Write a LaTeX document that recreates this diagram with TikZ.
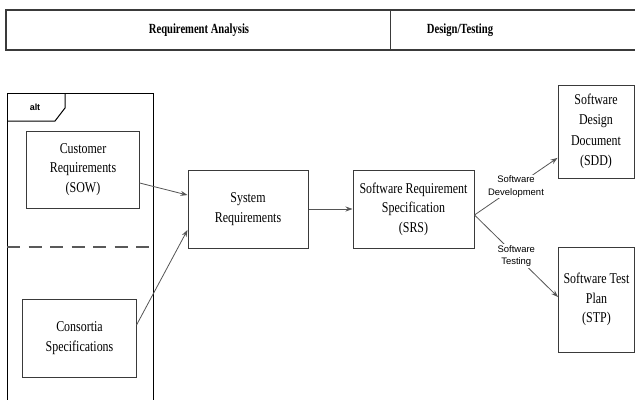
\documentclass[tikz,border=0pt]{standalone}
\usepackage{fontspec}
\usetikzlibrary{arrows.meta}
\newfontfamily\boxfont{Liberation Serif}[FakeStretch=0.8]
\newfontfamily\headfont{Liberation Serif}[FakeStretch=0.76]
\newfontfamily\labelfont{Liberation Sans}
\definecolor{linegray}{HTML}{3A3A3A}
\definecolor{arrowgray}{HTML}{555555}
\tikzset{
  stagebox/.style={draw=linegray, line width=1bp, fill=white, align=center,
    font=\boxfont\fontsize{15}{19.5}\selectfont, inner sep=0pt},
  headlabel/.style={font=\headfont\bfseries\fontsize{14}{16}\selectfont},
  flowarrow/.style={draw=arrowgray, line width=0.8bp, -{Stealth[length=7bp,width=5bp]}},
  edgelabel/.style={fill=white, align=center, inner sep=1bp,
    font=\labelfont\fontsize{9.5}{12.5}\selectfont}
}
\begin{document}
\begin{tikzpicture}[x=1bp,y=-1bp]
\useasboundingbox (0,0) rectangle (635,399);

% phase header
\draw[linegray, line width=1.4bp] (6,10) rectangle (636,50);
\draw[linegray, line width=1bp] (390,10) -- (390,50);
\node[headlabel] (hreq) at (199,30) {Requirement Analysis};
\node[headlabel] (hdes) at (460,30) {Design/Testing};

% alt fragment
\draw[black, line width=1bp] (7,402) -- (7,93) -- (153,93) -- (153,402);
\draw[black, line width=1bp] (65,93) -- (65,108) -- (55,121) -- (7,121);
\node[font=\labelfont\bfseries\fontsize{9}{10}\selectfont] (alt) at (35,107) {alt};
\draw[gray!70!black, line width=1.6bp, dash pattern=on 13bp off 8.5bp] (7,247) -- (153,247);

% activities
\node[stagebox, minimum width=112bp, minimum height=77bp] (cust) at (83,169.5)
  {Customer\\Requirements\\(SOW)};
\node[stagebox, minimum width=113bp, minimum height=78bp] (cons) at (79.5,338)
  {Consortia\\Specifications};
\node[stagebox, minimum width=120bp, minimum height=78bp] (sys) at (248,209)
  {System\\Requirements};
\node[stagebox, minimum width=121bp, minimum height=78bp] (srs) at (413.5,209)
  {Software Requirement\\Specification\\(SRS)};
\node[stagebox, minimum width=76bp, minimum height=93bp,
  font=\boxfont\fontsize{15}{20.5}\selectfont] (sdd) at (596,131.5)
  {Software\\Design\\Document\\(SDD)};
\node[stagebox, minimum width=76bp, minimum height=105bp] (stp) at (596.5,299.5)
  {Software Test\\Plan\\(STP)};

% flows
\draw[flowarrow] ([yshift=-13.5pt]cust.east) -- ([yshift=14pt]sys.west);
\draw[flowarrow] ([yshift=13pt]cons.east) -- ([yshift=-21pt]sys.west);
\draw[flowarrow] (sys.east) -- (srs.west);
\draw[flowarrow] ([yshift=-6pt]srs.east) -- ([yshift=-26.5pt]sdd.west)
  node[edgelabel, pos=0.5] (devlbl) {Software\\Development};
\draw[flowarrow] ([yshift=-6pt]srs.east) -- ([yshift=2.5pt]stp.west)
  node[edgelabel, pos=0.5] (testlbl) {Software\\Testing};
\end{tikzpicture}
\end{document}
